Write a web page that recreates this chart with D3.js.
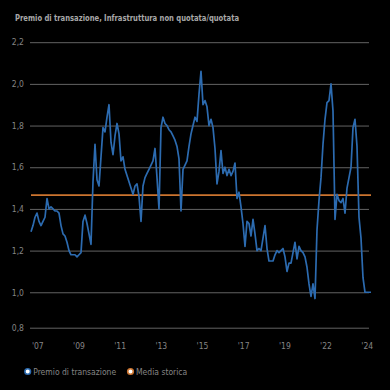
<!DOCTYPE html>
<html><head><meta charset="utf-8">
<script src="https://cdn.jsdelivr.net/npm/d3@7"></script>
<style>html,body{margin:0;padding:0;background:#000;}svg{display:block;}</style>
</head><body>
<svg id="chart" width="390" height="390"></svg>
<script>
const title = "Premio di transazione, Infrastruttura non quotata/quotata";
const yTicks = [0.8, 1.0, 1.2, 1.4, 1.6, 1.8, 2.0, 2.2];
const yTickLabels = ["0,8", "1,0", "1,2", "1,4", "1,6", "1,8", "2,0", "2,2"];
const xLabels = ["'07", "'09", "'11", "'13", "'15", "'17", "'19", "'22", "'24"];
const seriesName = "Premio di transazione";
const avgName = "Media storica";
const historicalAverage = 1.466;
const premium = [
  1.29,1.32,1.36,1.38,1.34,1.32,1.34,1.36,1.45,1.40,
  1.41,1.40,1.39,1.39,1.38,1.32,1.28,1.27,1.24,1.20,
  1.18,1.18,1.18,1.17,1.18,1.19,1.34,1.37,1.33,1.28,
  1.23,1.53,1.71,1.54,1.51,1.65,1.79,1.77,1.84,1.90,
  1.72,1.66,1.75,1.81,1.76,1.63,1.65,1.59,1.56,1.53,
  1.50,1.47,1.51,1.52,1.46,1.34,1.51,1.55,1.57,1.59,
  1.61,1.63,1.69,1.55,1.40,1.79,1.84,1.81,1.80,1.78,
  1.77,1.75,1.73,1.70,1.64,1.39,1.59,1.61,1.63,1.70,
  1.76,1.80,1.84,1.82,1.95,2.06,1.90,1.92,1.89,1.80,
  1.83,1.79,1.69,1.52,1.58,1.68,1.57,1.60,1.56,1.59,
  1.56,1.58,1.62,1.45,1.48,1.41,1.33,1.22,1.34,1.33,
  1.27,1.35,1.28,1.20,1.21,1.20,1.26,1.32,1.21,1.15,
  1.15,1.15,1.18,1.20,1.19,1.20,1.21,1.17,1.10,1.14,
  1.14,1.19,1.24,1.16,1.22,1.20,1.19,1.17,1.12,1.04,
  0.98,1.04,0.97,1.30,1.44,1.55,1.71,1.83,1.91,1.92,
  2.00,1.87,1.35,1.47,1.44,1.43,1.45,1.38,1.50,1.55,
  1.60,1.79,1.83,1.70,1.36,1.26,1.07,1.00,1.00,1.00,
  1.00
];

const svg = d3.select("#chart");
const W = 390, H = 390;
const plot = {left: 31, right: 371, top: 42.2, bottom: 327.7};
const FONT = "'Liberation Sans Narrow', 'DejaVu Sans Condensed', 'Liberation Sans', sans-serif";
const blue = "#2c6bb0", orange = "#cc742f", grid = "#636363", textCol = "#858585";

svg.append("rect").attr("width", W).attr("height", H).attr("fill", "#000");

svg.append("text").attr("x", 15).attr("y", 20.5)
  .attr("font-family", FONT).attr("font-size", 9.5).attr("font-weight", "bold")
  .attr("textLength", 224).attr("lengthAdjust", "spacingAndGlyphs")
  .attr("fill", "#a8a8a8").text(title);

const y = d3.scaleLinear().domain([0.83, 2.2]).range([plot.bottom, plot.top]).clamp(true);
const x = d3.scaleLinear().domain([0, premium.length - 1]).range([plot.left, plot.right]);
const xl = d3.scalePoint().domain(xLabels).range([37.3, 366.7]);

// y grid + labels
const yAxis = d3.axisLeft(y).tickValues(yTicks)
  .tickSize(-(plot.right - plot.left - 1)).tickPadding(6)
  .tickFormat((d, i) => yTickLabels[i]);
const gy = svg.append("g").attr("transform", `translate(${plot.left - 1},0)`).call(yAxis);
gy.select(".domain").remove();
gy.selectAll(".tick line").attr("stroke", grid).attr("stroke-width", 1);
gy.selectAll(".tick text").attr("fill", textCol).attr("font-family", FONT).attr("font-size", 8.5);

// x labels
const xAxis = d3.axisBottom(xl).tickSize(0).tickPadding(0);
const gx = svg.append("g").attr("transform", `translate(0,${plot.bottom + 15})`).call(xAxis);
gx.select(".domain").remove();
gx.selectAll(".tick text").attr("fill", textCol).attr("font-family", FONT).attr("font-size", 8.5);

// historical average
svg.append("line")
  .attr("x1", plot.left).attr("x2", plot.right)
  .attr("y1", y(historicalAverage)).attr("y2", y(historicalAverage))
  .attr("stroke", orange).attr("stroke-width", 1.8);

// premium line
const line = d3.line().x((d, i) => x(i)).y(d => y(d)).curve(d3.curveLinear);
svg.append("path").datum(premium).attr("d", line)
  .attr("fill", "none").attr("stroke", blue).attr("stroke-width", 1.7)
  .attr("stroke-linejoin", "round");

// legend
const legendItems = [{name: seriesName, color: blue, x: 27.7}, {name: avgName, color: orange, x: 130.5}];
const lg = svg.append("g").attr("transform", "translate(0,371.5)");
legendItems.forEach(it => {
  lg.append("circle").attr("cx", it.x).attr("cy", 0).attr("r", 2.8)
    .attr("fill", "#fff").attr("stroke", it.color).attr("stroke-width", 1.6);
  lg.append("text").attr("x", it.x + 5.5).attr("y", 3)
    .attr("font-family", FONT).attr("font-size", 8.5).attr("fill", textCol).text(it.name);
});
</script>
</body></html>
